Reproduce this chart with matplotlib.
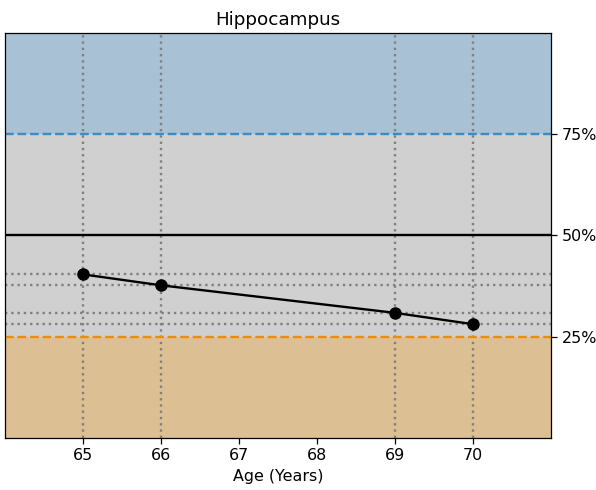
import matplotlib
matplotlib.use('Agg')
import matplotlib.pyplot as plt

# Hippocampus percentile by age
ages = [65, 66, 69, 70]
percentiles = [0.404, 0.377, 0.309, 0.281]

band_edges = [0.0, 0.25, 0.75, 1.0]
band_colors = ['#dcc094', '#d0d0d0', '#a9c1d4']
ref_levels = [0.25, 0.5, 0.75]
ref_colors = ['#e58e12', 'black', '#3a8cc6']
ref_styles = ['--', '-', '--']
ytick_labels = ['25%', '50%', '75%']

fig = plt.figure(figsize=(5.96, 4.9), dpi=100)
ax = fig.add_axes([0.0084, 0.1061, 0.9161, 0.8266])

for lo, hi, c in zip(band_edges[:-1], band_edges[1:], band_colors):
    ax.axhspan(lo, hi, color=c, lw=0, zorder=0)

for lvl, c, ls in zip(ref_levels, ref_colors, ref_styles):
    ax.axhline(lvl, color=c, linestyle=ls, lw=1.7, zorder=2)

for a in ages:
    ax.axvline(a, color='gray', linestyle=':', lw=1.7, zorder=1)
for p in percentiles:
    ax.axhline(p, color='gray', linestyle=':', lw=1.7, zorder=1)

ax.plot(ages, percentiles, color='black', marker='o', markersize=8, lw=1.7, zorder=3)

ax.set_xlim(64, 71)
ax.set_ylim(0, 1)
ax.set_xticks(list(range(65, 71)))
ax.yaxis.tick_right()
ax.set_yticks(ref_levels)
ax.set_yticklabels(ytick_labels)
ax.tick_params(labelsize=11.4, length=4, width=0.9)
for s in ax.spines.values():
    s.set_linewidth(0.9)
ax.set_xlabel('Age (Years)', fontsize=11.4, labelpad=4)
ax.set_title('Hippocampus', fontsize=13.2, pad=6)

fig.savefig('out.png', dpi=100)
